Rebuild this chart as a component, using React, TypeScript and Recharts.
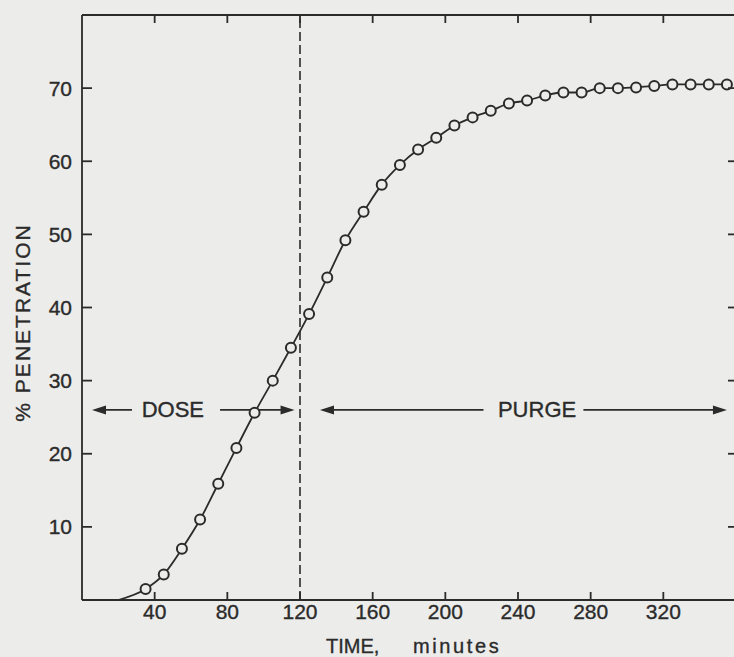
import React from "react";
import {
  ComposedChart,
  Line,
  XAxis,
  YAxis,
  ReferenceLine,
  ReferenceDot,
} from "recharts";

// time after start of the dose, minutes (first entry is where the fitted curve leaves zero)
const TIME = [
  20, 35, 45, 55, 65, 75, 85, 95, 105, 115, 125, 135, 145, 155, 165, 175, 185,
  195, 205, 215, 225, 235, 245, 255, 265, 275, 285, 295, 305, 315, 325, 335,
  345, 355,
];
const PENETRATION = [
  0, 1.5, 3.5, 7.0, 11.0, 15.9, 20.8, 25.6, 30.0, 34.5, 39.1, 44.1, 49.2, 53.1,
  56.8, 59.5, 61.6, 63.2, 64.9, 66.0, 66.9, 67.9, 68.3, 69.0, 69.4, 69.4, 70.0,
  70.0, 70.1, 70.3, 70.5, 70.5, 70.5, 70.5,
];

const X_TICKS = [40, 80, 120, 160, 200, 240, 280, 320];
const Y_TICKS = [10, 20, 30, 40, 50, 60, 70];
const DOSE_END = 120;

// arrows on the phase bands: [from, to] in minutes, at ARROW_Y percent
const ARROW_Y = 26;
const DOSE_ARROWS = [
  [27.5, 5.5],
  [76, 117],
];
const PURGE_ARROWS = [
  [221, 131],
  [276, 355],
];
const PHASES = [
  { label: "DOSE", at: 50 },
  { label: "PURGE", at: 250.5 },
];

const data = TIME.map((t, i) => ({ t, p: PENETRATION[i] }));

const INK = "#2b2b2b";
const BG = "#ececea";
const FONT = '"Liberation Sans", Arial, sans-serif';
const TEXT = { fontFamily: FONT, fontSize: 21, fill: INK, stroke: INK, strokeWidth: 0.35 };

const BottomTick = ({ x, y, payload }: any) => (
  <g>
    <line x1={x} y1={y} x2={x} y2={y - 8} stroke={INK} strokeWidth={1.8} />
    <text x={x} y={y + 19} textAnchor="middle" {...TEXT}>
      {payload.value}
    </text>
  </g>
);

const TopTick = ({ x, y }: any) => (
  <line x1={x} y1={y} x2={x} y2={y + 8} stroke={INK} strokeWidth={1.8} />
);

const LeftTick = ({ x, y, payload }: any) => (
  <g>
    <line x1={x} y1={y} x2={x + 10} y2={y} stroke={INK} strokeWidth={1.8} />
    <text x={x - 10} y={y} textAnchor="end" dominantBaseline="central" {...TEXT}>
      {payload.value}
    </text>
  </g>
);

const RightTick = ({ x, y }: any) => (
  <line x1={x} y1={y} x2={x - 8} y2={y} stroke={INK} strokeWidth={1.8} />
);

const XTitle = ({ viewBox }: any) => {
  const mid = viewBox.x + viewBox.width / 2;
  const y = viewBox.y + 53;
  return (
    <g>
      <text x={mid - 83} y={y} {...TEXT} fontSize={20}>
        TIME,
      </text>
      <text x={mid + 4} y={y} {...TEXT} fontSize={20} letterSpacing={2.6}>
        minutes
      </text>
    </g>
  );
};

const YTitle = ({ viewBox }: any) => {
  const cx = viewBox.x + 22;
  const cy = viewBox.y + viewBox.height / 2 + 15;
  return (
    <text
      x={cx}
      y={cy}
      transform={`rotate(-90 ${cx} ${cy})`}
      textAnchor="middle"
      dominantBaseline="central"
      {...TEXT}
      letterSpacing={2}
    >
      % PENETRATION
    </text>
  );
};

const Arrow = (props: any) => {
  const { x1, y1, x2, y2 } = props;
  const dir = x2 > x1 ? 1 : -1;
  return (
    <g>
      <line x1={x1} y1={y1} x2={x2 - dir * 8} y2={y2} stroke={INK} strokeWidth={1.6} />
      <polygon
        points={`${x2},${y2} ${x2 - dir * 14},${y2 - 4.5} ${x2 - dir * 14},${y2 + 4.5}`}
        fill={INK}
      />
    </g>
  );
};

const PointDot = (props: any) => {
  const { cx, cy, index } = props;
  // first point is only the start of the fitted curve, not a measurement
  if (index === 0) return <g key={index} />;
  return (
    <circle key={index} cx={cx} cy={cy} r={5} fill={BG} stroke={INK} strokeWidth={2} />
  );
};

export default function App() {
  return (
    <div
      style={{
        position: "fixed",
        left: 0,
        top: 0,
        width: 734,
        height: 657,
        overflow: "hidden",
        background: BG,
      }}
    >
      <ComposedChart
        width={760}
        height={657}
        data={data}
        margin={{ top: 14, right: 23, bottom: 0, left: 0 }}
      >
        <XAxis
          dataKey="t"
          type="number"
          domain={[0, 360]}
          ticks={X_TICKS}
          height={57}
          tickSize={0}
          tickMargin={0}
          tickLine={false}
          tick={<BottomTick />}
          axisLine={{ stroke: INK, strokeWidth: 2 }}
          label={{ content: <XTitle /> }}
        />
        <XAxis
          xAxisId="top"
          dataKey="t"
          orientation="top"
          type="number"
          domain={[0, 360]}
          ticks={X_TICKS}
          height={1}
          tickSize={0}
          tickMargin={0}
          tickLine={false}
          tick={<TopTick />}
          axisLine={{ stroke: INK, strokeWidth: 2 }}
        />
        <YAxis
          type="number"
          domain={[0, 80]}
          ticks={Y_TICKS}
          width={82}
          tickSize={0}
          tickMargin={0}
          tickLine={false}
          tick={<LeftTick />}
          axisLine={{ stroke: INK, strokeWidth: 1.8 }}
          label={{ content: <YTitle /> }}
        />
        <YAxis
          yAxisId="right"
          orientation="right"
          type="number"
          domain={[0, 80]}
          ticks={Y_TICKS}
          width={1}
          tickSize={0}
          tickMargin={0}
          tickLine={false}
          tick={<RightTick />}
          axisLine={{ stroke: INK, strokeWidth: 1.8 }}
        />
        <ReferenceLine
          x={DOSE_END}
          stroke={INK}
          strokeWidth={1.6}
          strokeDasharray="9 4"
        />
        {[...DOSE_ARROWS, ...PURGE_ARROWS].map(([from, to], i) => (
          <ReferenceLine
            key={i}
            segment={[
              { x: from, y: ARROW_Y },
              { x: to, y: ARROW_Y },
            ]}
            shape={Arrow}
          />
        ))}
        {PHASES.map((ph) => (
          <ReferenceDot
            key={ph.label}
            x={ph.at}
            y={ARROW_Y}
            r={0}
            shape={(p: any) => (
              <text
                x={p.cx}
                y={p.cy}
                textAnchor="middle"
                dominantBaseline="central"
                {...TEXT}
                fontSize={22}
              >
                {ph.label}
              </text>
            )}
          />
        ))}
        {/* invisible copy so the frame axes on top and right get drawn */}
        <Line
          xAxisId="top"
          yAxisId="right"
          dataKey="p"
          stroke="none"
          dot={false}
          activeDot={false}
          legendType="none"
          isAnimationActive={false}
        />
        <Line
          dataKey="p"
          type="monotone"
          stroke={INK}
          strokeWidth={1.8}
          dot={PointDot}
          activeDot={false}
          isAnimationActive={false}
        />
      </ComposedChart>
    </div>
  );
}
